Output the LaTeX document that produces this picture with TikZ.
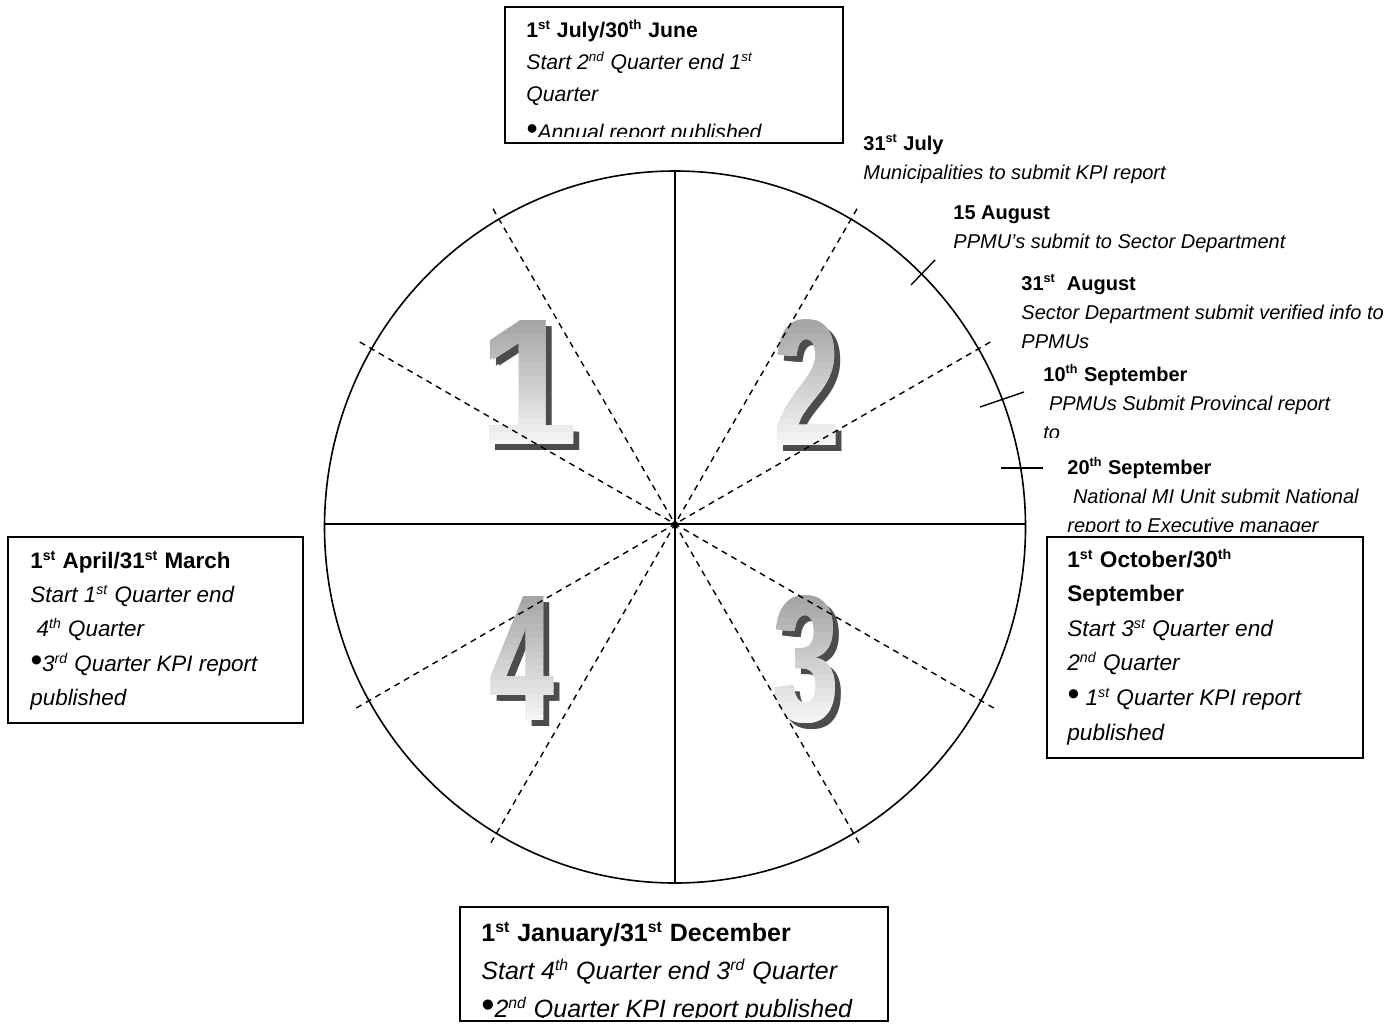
\documentclass[tikz,border=0pt]{standalone}
\usepackage{fontspec}
\setmainfont{Liberation Sans}

\tikzset{
  rim/.style={line width=0.8pt},
  spoke/.style={line width=0.7pt, dash pattern=on 3pt off 2.5pt},
  tickmark/.style={line width=0.7pt},
  datebox/.style={line width=0.9pt},
  boxtext/.style={anchor=base west, inner sep=0pt, align=left},
  note/.style={boxtext, font=\fontsize{10}{14.6}\selectfont},
  digit/.style={inner sep=0pt, font=\fontsize{90}{90}\selectfont\bfseries},
}
\newcommand{\bul}{\scalebox{1.5}{\textbullet}}
\newcommand{\sups}[1]{\textsuperscript{\scalebox{0.9}{#1}}}

\begin{document}
\begin{tikzpicture}[x=0.5pt, y=-0.5pt]
\useasboundingbox (0,0) rectangle (1400,1023);
\def\cx{675}
\def\cy{524}
\coordinate (hub) at (\cx,\cy);
\coordinate (ring) at (\cx,\cy+3);

\foreach \q/\x/\y/\s in {1/527/383/0.97, 2/806/383/0.64, 3/805/660/0.64, 4/521/659/0.62} {
  \foreach \d in {0,3}
    \node[digit, xscale=\s, text=black!70] (q\q s\d) at (\x+6+\d,\y+6) {\q};
  \foreach \d in {0,3}
    \node[digit, xscale=\s, text=black!18] (q\q f\d) at (\x+\d,\y) {\q};
  \foreach \i in {0,...,19} {
    \pgfmathsetmacro\tint{37-35*\i/19}
    \begin{scope}
      \clip (\x-70,\y-70+7*\i) rectangle (\x+70,\y-62+7*\i);
      \foreach \d in {0,3}
        \node[digit, xscale=\s, text=black!\tint] (q\q b\i d\d) at (\x+\d,\y) {\q};
    \end{scope}
  }
}

\draw[rim] (ring) ellipse [x radius=350.5, y radius=356];
\draw[rim] (ring) ++(0,-356) -- ++(0,712);
\draw[rim] (hub) ++(-350.5,0) -- ++(701,0);
\foreach \a in {30,60,120,150}
  \draw[spoke] (hub) ++(\a:368) -- ++(\a+180:736);
\fill (hub) circle (3);

\draw[tickmark] (911,285) -- (935,260);
\draw[tickmark] (980,407) -- (1024,392);
\draw[tickmark] (1001,468) -- (1043,468);

\draw[datebox] (505,7) rectangle (843,143);
\draw[datebox] (8,537) rectangle (303,723);
\draw[datebox] (1047,537) rectangle (1363,758);
\draw[datebox] (460,907) rectangle (888,1021);

\begin{scope}
  \clip (505,7) rectangle (843,136);
  \node[boxtext, font=\fontsize{10.6}{16}\selectfont] (july) at (526,139)
    {\textbf{1\sups{st} July/30\sups{th} June}\\
     \textit{Start 2\sups{nd} Quarter end 1\sups{st}}\\
     \textit{Quarter}\\[3pt]
     \textit{\bul Annual report published}};
\end{scope}

\node[boxtext, font=\fontsize{11.2}{17.2}\selectfont] (april) at (30,705.6)
  {\textbf{1\sups{st} April/31\sups{st} March}\\
   \textit{Start 1\sups{st} Quarter end}\\
   \textit{\hspace*{0.28em}4\sups{th} Quarter}\\
   \textit{\bul 3\sups{rd} Quarter KPI report}\\
   \textit{published}};

\node[boxtext, font=\fontsize{11.3}{17.3}\selectfont] (october) at (1067,740)
  {\textbf{1\sups{st} October/30\sups{th}}\\
   \textbf{September}\\
   \textit{Start 3\sups{st} Quarter end}\\
   \textit{2\sups{nd} Quarter}\\
   \textit{\bul\ 1\sups{st} Quarter KPI report}\\
   \textit{published}};

\begin{scope}
  \clip (460,907) rectangle (888,1017);
  \node[boxtext, font=\fontsize{12.5}{19}\selectfont] (january) at (481,1017)
    {\textbf{1\sups{st} January/31\sups{st} December}\\
     \textit{Start 4\sups{th} Quarter end 3\sups{rd} Quarter}\\
     \textit{\bul 2\sups{nd} Quarter KPI report published}};
\end{scope}

\node[note] (jul31) at (863,179.2)
  {\textbf{31\sups{st} July}\\
   \textit{Municipalities to submit KPI report}};
\node[note] (aug15) at (953,248.2)
  {\textbf{15 August}\\
   \textit{PPMU’s submit to Sector Department}};
\node[note] (aug31) at (1021,348.4)
  {\textbf{31\sups{st}\ \ August}\\
   \textit{Sector Department submit verified info to}\\
   \textit{PPMUs}};
\begin{scope}
  \clip (1030,350) rectangle (1400,437);
  \node[note] (sep10) at (1043,439.4)
    {\textbf{10\sups{th} September}\\
     \textit{\hspace*{0.28em}PPMUs Submit Provincal report}\\
     \textit{to}};
\end{scope}
\begin{scope}
  \clip (1055,445) rectangle (1400,531);
  \node[note] (sep20) at (1067,532.4)
    {\textbf{20\sups{th} September}\\
     \textit{\hspace*{0.28em}National MI Unit submit National}\\
     \textit{report to Executive manager}};
\end{scope}
\end{tikzpicture}
\end{document}
